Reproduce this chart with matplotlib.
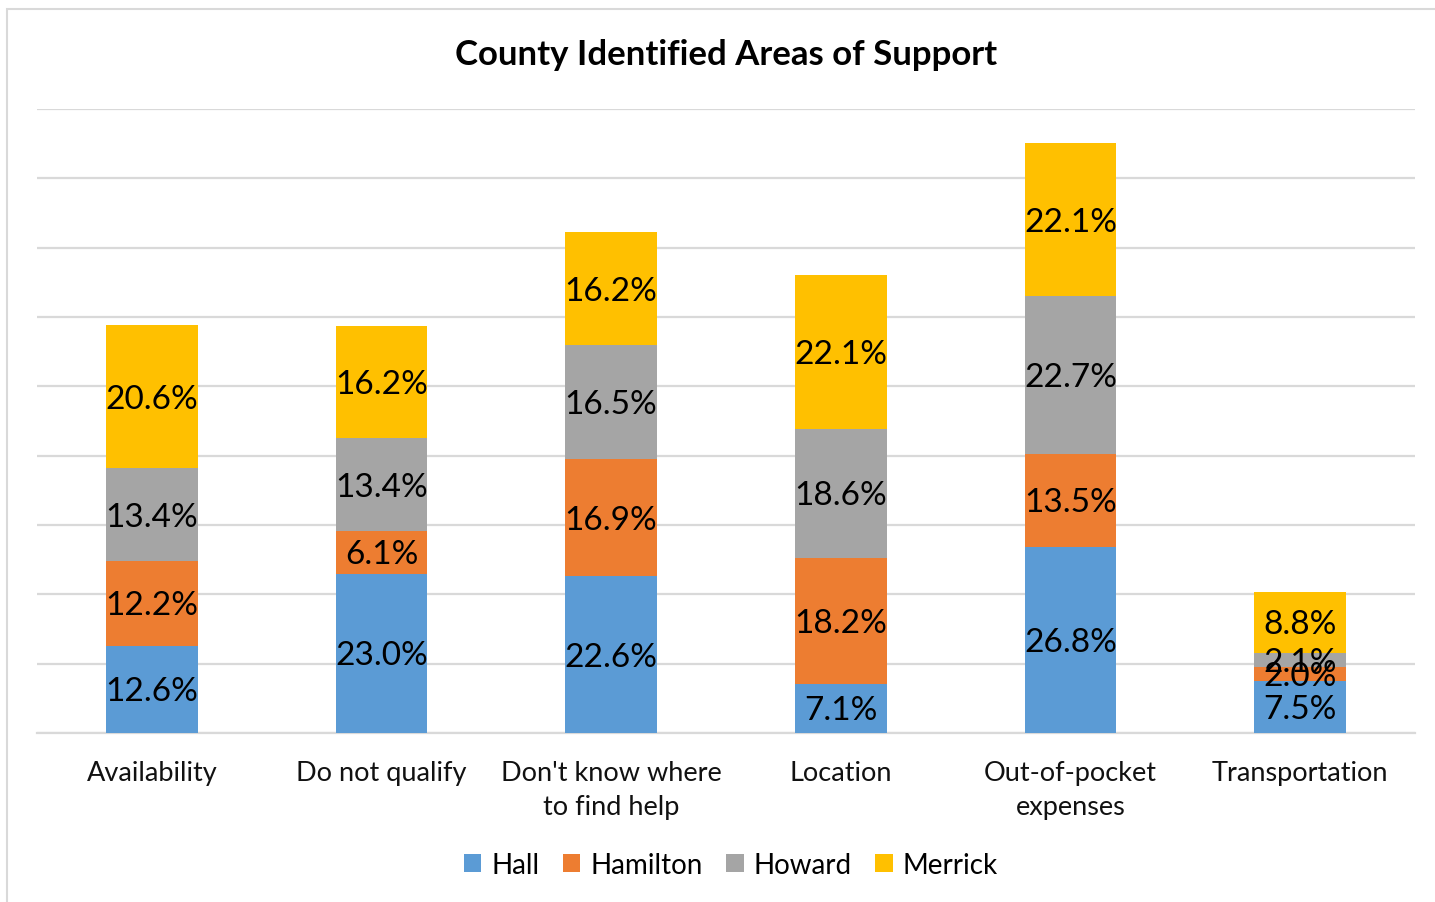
import matplotlib
matplotlib.use("Agg")
import matplotlib.pyplot as plt
from matplotlib.patches import Rectangle
import numpy as np

plt.rcParams['font.family'] = ['Lato', 'DejaVu Sans']

categories = ["Availability", "Do not qualify", "Don't know where\nto find help",
              "Location", "Out-of-pocket\nexpenses", "Transportation"]
series_names = ["Hall", "Hamilton", "Howard", "Merrick"]
hall = [12.6, 23.0, 22.6, 7.1, 26.8, 7.5]
hamilton = [12.2, 6.1, 16.9, 18.2, 13.5, 2.0]
howard = [13.4, 13.4, 16.5, 18.6, 22.7, 2.1]
merrick = [20.6, 16.2, 16.2, 22.1, 22.1, 8.8]
colors = ["#5B9BD5", "#ED7D31", "#A5A5A5", "#FFC000"]

fig = plt.figure(figsize=(14.35, 9.03), dpi=100)
# outer chart frame
fig.patches.append(Rectangle((7 / 1435, -0.1), 1.2, (903 - 10) / 903 + 0.1,
                             transform=fig.transFigure, fill=False,
                             edgecolor="#D9D9D9", linewidth=1.5))

ax = fig.add_axes([37 / 1435, (903 - 734) / 903, 1378 / 1435, 624 / 903])
x = np.arange(len(categories))
bottom = np.zeros(len(categories))
for name, vals, c in zip(series_names, [hall, hamilton, howard, merrick], colors):
    vals = np.array(vals)
    ax.bar(x, vals, 0.4, bottom=bottom, color=c, label=name, zorder=3)
    for xi, b, v in zip(x, bottom, vals):
        ax.text(xi, b + v / 2 - 0.3, f"{v:.1f}%", ha="center", va="center",
                fontsize=24, color="black", zorder=4)
    bottom += vals

ax.set_xlim(-0.5, 5.5)
ax.set_ylim(0, 90)
ax.set_yticks(np.arange(0, 91, 10))
ax.yaxis.grid(True, color="#D9D9D9", linewidth=1.6, zorder=0)
ax.tick_params(axis="y", left=False, labelleft=False)
ax.tick_params(axis="x", bottom=False, pad=16)
ax.set_xticks(x)
ax.set_xticklabels(categories, fontsize=19.5, linespacing=1.45, color="#111111")
for s in ["top", "right", "left"]:
    ax.spines[s].set_visible(False)
ax.spines["bottom"].set_color("#D9D9D9")
ax.spines["bottom"].set_linewidth(1.6)

fig.text(726 / 1435, 1 - 55 / 903, "County Identified Areas of Support",
         ha="center", va="center", fontsize=25, fontweight="bold")

fig.legend(loc="center", bbox_to_anchor=(731 / 1435, 1 - 866 / 903), ncol=4,
           frameon=False, fontsize=20, handlelength=0.62, handleheight=0.62,
           handletextpad=0.36, columnspacing=0.85)

fig.savefig("out.png", dpi=100)
